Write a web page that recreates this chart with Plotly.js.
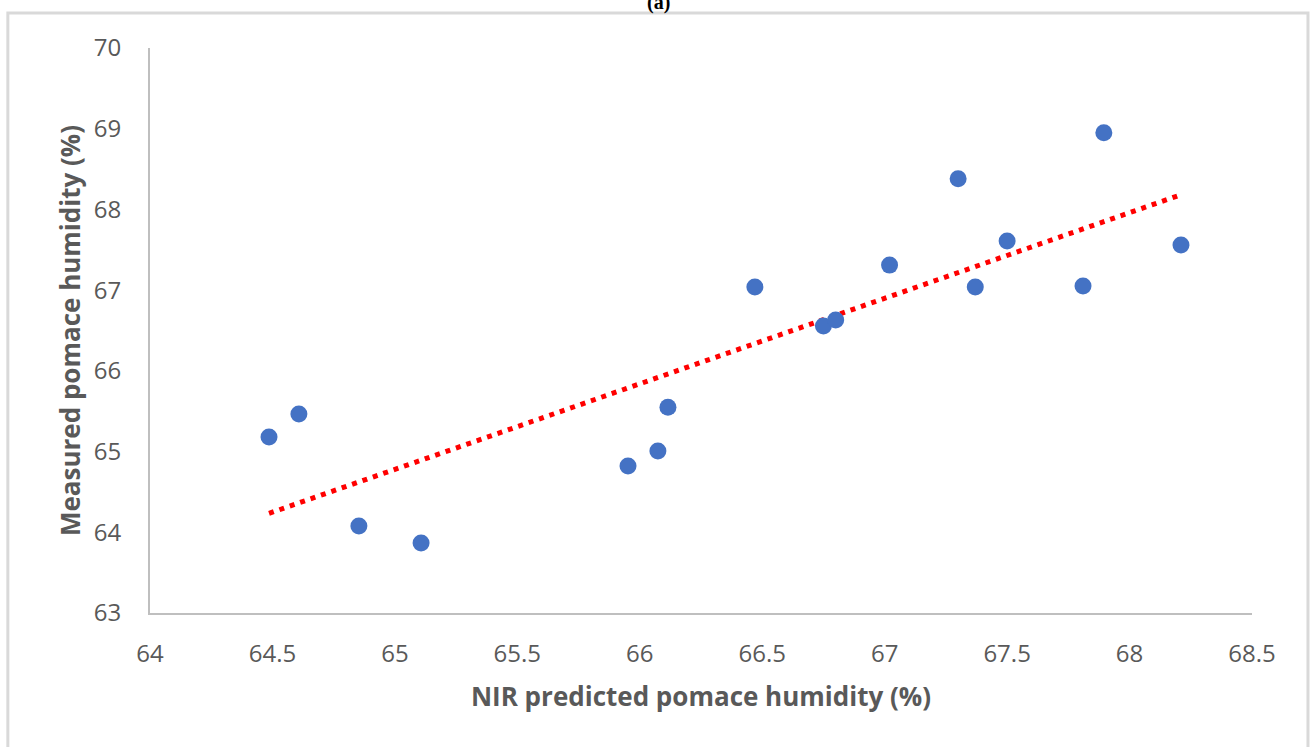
<!DOCTYPE html>
<html>
<head>
<meta charset="utf-8">
<script src="https://cdn.plot.ly/plotly-3.0.1.min.js"></script>
<style>
  html, body { margin: 0; padding: 0; background: #fff; }
  #chart { width: 1311px; height: 747px; }
</style>
</head>
<body>
<div id="chart"></div>
<script>
// NIR predicted vs. measured pomace humidity (%)
const predicted = [64.486, 64.608, 64.853, 65.107, 65.952, 66.074, 66.115, 66.47, 66.75,
                   66.80, 67.02, 67.30, 67.37, 67.50, 67.81, 67.895, 68.21];
const measured  = [65.18, 65.465, 64.077, 63.866, 64.82, 65.006, 65.55, 67.04, 66.555,
                   66.63, 67.31, 68.38, 67.04, 67.61, 67.05, 68.95, 67.56];

const xTicks = [64, 64.5, 65, 65.5, 66, 66.5, 67, 67.5, 68, 68.5];
const yTicks = [63, 64, 65, 66, 67, 68, 69, 70];

// Least-squares linear trendline over the span of the predicted values
function linearFit(xs, ys) {
  const n = xs.length;
  const mx = xs.reduce((a, b) => a + b, 0) / n;
  const my = ys.reduce((a, b) => a + b, 0) / n;
  let sxy = 0, sxx = 0;
  for (let i = 0; i < n; i++) {
    sxy += (xs[i] - mx) * (ys[i] - my);
    sxx += (xs[i] - mx) * (xs[i] - mx);
  }
  const slope = sxy / sxx;
  return { slope, intercept: my - slope * mx };
}
const fit = linearFit(predicted, measured);
const xMin = Math.min(...predicted), xMax = Math.max(...predicted);
const trendX = [xMin, xMax];
const trendY = trendX.map(v => fit.intercept + fit.slope * v);

const gray = '#595959';
const fontFam = '"Open Sans", "Noto Sans", sans-serif';

const traces = [
  {
    x: trendX, y: trendY, type: 'scatter', mode: 'lines',
    line: { color: '#FF0000', width: 5, dash: '5px,6px' },
    hoverinfo: 'skip', showlegend: false
  },
  {
    x: predicted, y: measured, type: 'scatter', mode: 'markers',
    marker: { color: '#4472C4', size: 17, line: { width: 0 } },
    showlegend: false
  }
];

const layout = {
  width: 1311, height: 747,
  margin: { l: 150, r: 59, t: 48, b: 134 },
  paper_bgcolor: '#ffffff', plot_bgcolor: '#ffffff',
  font: { family: fontFam, color: gray },
  xaxis: {
    range: [64, 68.5], tickvals: xTicks, ticktext: xTicks.map(String),
    showgrid: false, zeroline: false, showline: true, linecolor: '#BFBFBF', linewidth: 2,
    ticks: '', ticklabelstandoff: 18, tickfont: { size: 24, color: gray, family: fontFam },
    title: { text: '<b>NIR predicted pomace humidity (%)</b>', font: { size: 26, color: gray, family: fontFam }, standoff: 20 }
  },
  yaxis: {
    range: [63, 70], tickvals: yTicks, ticktext: yTicks.map(String),
    showgrid: false, zeroline: false, showline: true, linecolor: '#BFBFBF', linewidth: 2,
    ticks: '', ticklabelstandoff: 22, tickfont: { size: 24, color: gray, family: fontFam },
    title: { text: '<b>Measured pomace humidity (%)</b>', font: { size: 26, color: gray, family: fontFam }, standoff: 6 }
  },
  shapes: [
    {
      type: 'rect', xref: 'paper', yref: 'paper',
      x0: -0.1290, x1: 1.0508, y0: -0.30, y1: 1.0618,
      line: { color: '#D9D9D9', width: 3 }, fillcolor: 'rgba(0,0,0,0)', layer: 'below'
    }
  ],
  annotations: [
    {
      text: '<b>(a)</b>', xref: 'paper', yref: 'paper', x: 0.4618, y: 1.0618,
      xanchor: 'center', yanchor: 'bottom', yshift: -3, showarrow: false,
      font: { family: '"Liberation Serif", "DejaVu Serif", serif', size: 20, color: '#000' }
    }
  ]
};

Plotly.newPlot('chart', traces, layout, { displayModeBar: false, staticPlot: true });
</script>
</body>
</html>
